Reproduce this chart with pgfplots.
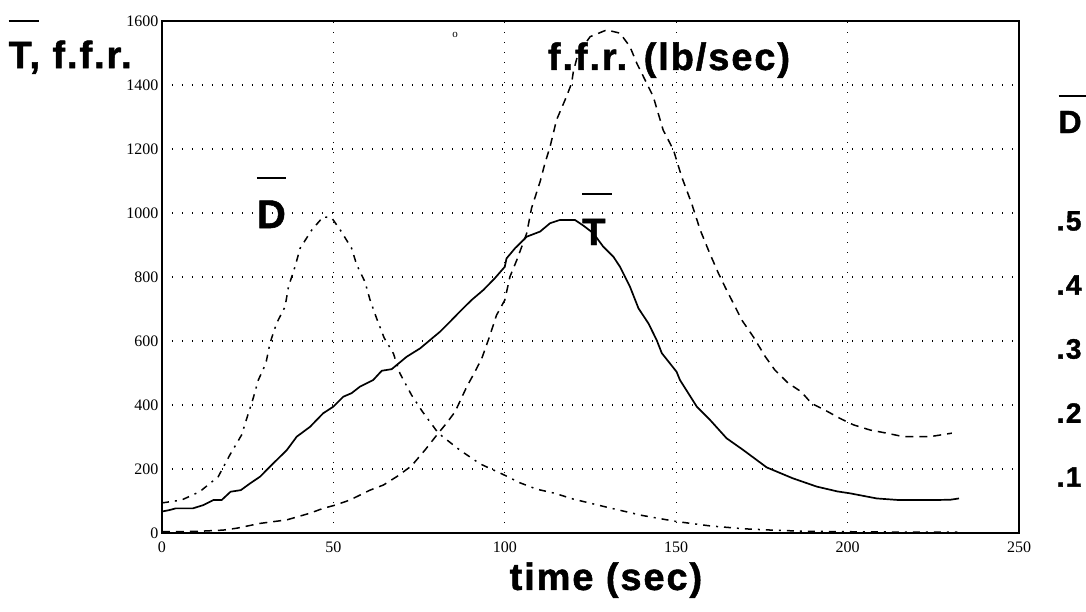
\documentclass[border=0pt]{standalone}
\usepackage{fontspec}
\setmainfont{Liberation Serif}
\newfontfamily\bigsans[LetterSpace=5, BoldFeatures={FakeBold=1.3}]{Liberation Sans}
\usepackage{pgfplots}
\pgfplotsset{compat=1.18}

% overbar: #1 letter, #2 bar width, #3 height of bar above baseline
\newcommand\ob[3]{\makebox[0pt][l]{\raisebox{#3}{\rule{#2}{1.6pt}}}#1}
\newcommand\bigsf[1]{\bigsans\bfseries\fontsize{#1}{#1}\selectfont}

\begin{document}
\begin{tikzpicture}
\begin{axis}[
    scale only axis,
    width=857pt, height=512pt,
    xmin=0, xmax=250,
    ymin=0, ymax=1600,
    xtick={0,50,...,250},
    ytick={0,200,...,1600},
    major tick length=0pt,
    grid=major,
    grid style={black, line width=1.1pt, dash pattern=on 1.1pt off 8.9pt},
    axis line style={line width=1.6pt},
    tick label style={font=\fontsize{16}{16}\selectfont},
    xticklabel style={yshift=-5pt},
    /pgf/number format/assume math mode=true,
    /pgf/number format/set thousands separator={},
    clip=false,
]
% T (solid)
\addplot[black, line width=1.7pt] coordinates {
(0,67)(2.3,72)(4,77)(9,77)(12,87)(15,103)(17.4,103)(20,129)(23,134)(25.7,155)
(28.6,176)(32.5,218)(36.4,259)(39.3,301)(43.2,332)(47,374)(50,395)(52.9,426)
(55.3,437)(57.7,457)(61.6,478)(64.1,507)(67,512)(71.4,551)(75.3,577)(78.2,603)
(81.1,629)(84,660)(86.9,692)(90.3,728)(93.7,759)(97,795)(100,832)(100.5,858)
(103,890)(106.4,926)(110.3,942)(113.2,968)(116,978)(120.5,978)(123,960)
(125.8,937)(128.7,895)(131.7,863)(133.6,832)(136.5,770)(139,702)(141.9,655)
(144.3,603)(145.8,562)(150.1,504)(151.1,478)(156,395)(159.9,353)(164.7,296)
(169.6,259)(176.4,205)(184,171)(191,145)(197,130)(200.7,124)(208.5,108)
(215,103)(225,103)(230,104)(232.5,108)
};
% f.f.r. (dashed)
\addplot[black, line width=1.5pt, dash pattern=on 8pt off 6pt] coordinates {
(0,4)(10,5)(17.8,9)(21.8,15)(28.6,30)(36.4,41)(43.2,62)(47,77)(50.5,87)
(54.8,103)(60.7,134)(64.6,150)(68.9,179)(72.8,210)(76.7,259)(80.6,312)(83,343)
(85.5,379)(88.9,457)(91.3,504)(93.3,546)(94.7,588)(95.7,619)(97.6,681)(100,728)
(101.5,801)(103.5,853)(106.4,937)(107.8,1015)(110.3,1098)(111.7,1155)
(113.2,1207)(115.1,1291)(118,1364)(119.5,1406)(120,1442)(121.4,1499)
(124.9,1551)(129.7,1572)(133.6,1562)(136.5,1520)(138.5,1468)(140.9,1416)
(143.3,1364)(146.2,1259)(149.2,1197)(151.6,1113)(154.5,1030)(157,947)
(159.7,876)(162.3,812)(164.7,759)(167.2,707)(169.1,666)(172.5,613)(176,551)
(178.8,509)(182.7,468)(186.4,442)(189.5,405)(193.4,384)(197.8,358)(201.7,338)
(206.5,322)(211.4,312)(216.3,301)(224,301)(230.4,312)
};
% D (dash-dot)
\addplot[black, line width=1.5pt, dash pattern=on 7pt off 6pt on 2pt off 6pt] coordinates {
(0,94)(5.7,103)(11,129)(16.4,176)(19.8,244)(23.2,306)(25.2,374)(26.6,421)
(28.1,478)(30.3,530)(31.5,593)(33.4,655)(35.9,707)(36.9,770)(38.8,832)
(40.3,890)(43.7,947)(47,988)(49.5,985)(52,947)(55.3,890)(56.8,838)(59.2,785)
(60.7,728)(62.6,671)(64.8,610)(67.5,561)(69.4,499)(72.8,431)(76,379)
(80.6,312)(86.9,259)(92.8,216)(99.3,184)(104.4,157)(109.3,137)(114.6,124)
(120,106)(130,80)(140,55)(150,36)(160,22)(170,13)(180,8)(190,5)(200,4)
(215,3)(232,3)
};
\node[anchor=base] at (axis cs:-26.8,1453) {\bigsf{38}\ob{T}{30pt}{46pt}, f.f.r.};
\node[anchor=base] at (axis cs:147.9,1447) {\bigsf{38}f.f.r. (lb/sec)};
\node[anchor=base] at (axis cs:31.9,953) {\bigsf{40}\ob{D}{29pt}{49pt}};
\node[anchor=base] at (axis cs:126,900) {\bigsf{38}\ob{T}{30pt}{50pt}};
\node[anchor=base] at (axis cs:264.9,1250) {\bigsf{32}\ob{D}{30pt}{36pt}};
\node[anchor=base] at (axis cs:129.5,-178) {\bigsf{38}time (sec)};
\node[font=\fontsize{11}{11}\selectfont] at (axis cs:85.5,1556) {o};
\end{axis}
\begin{axis}[
    scale only axis,
    width=857pt, height=512pt,
    xmin=0, xmax=250,
    ymin=0.0125, ymax=0.8125,
    axis x line=none,
    axis y line*=right,
    y axis line style={draw=none},
    ytick={0.1,0.2,0.3,0.4,0.5},
    yticklabels={.1,.2,.3,.4,.5},
    major tick length=0pt,
    yticklabel style={font=\bigsf{28}, anchor=east, xshift=66pt},
]
\end{axis}
\pgfresetboundingbox
\path (-162pt,-78pt) rectangle (924pt,533pt);
\end{tikzpicture}
\end{document}
